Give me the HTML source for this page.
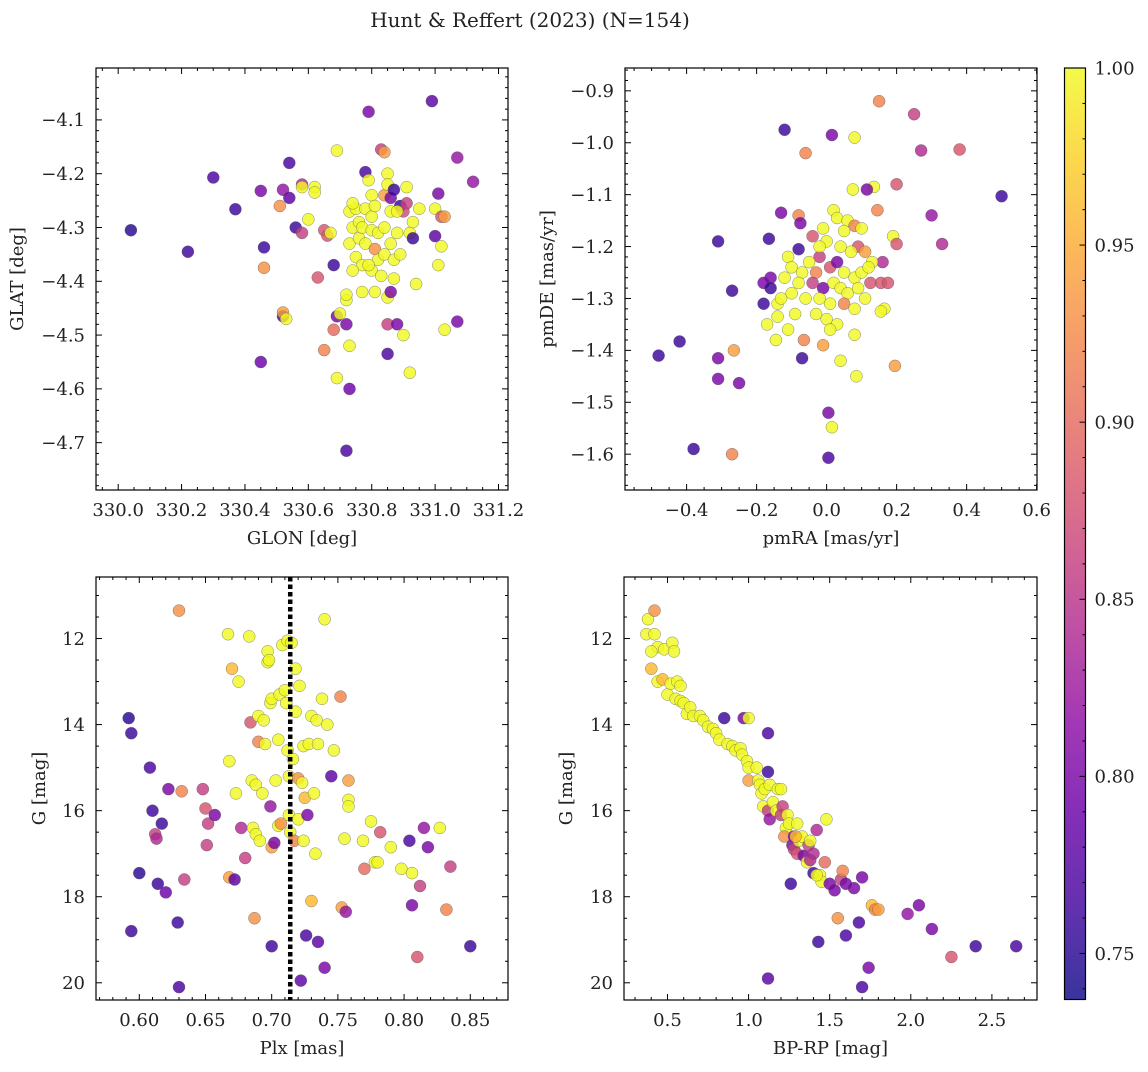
<!DOCTYPE html>
<html><head><meta charset="utf-8"><style>
html,body{margin:0;padding:0;background:#fff}
svg text{font-family:"DejaVu Serif","Liberation Serif",serif;fill:#222}
</style></head><body>
<svg id="fig" width="1148" height="1067" viewBox="0 0 1148 1067" xmlns="http://www.w3.org/2000/svg">
<defs><linearGradient id="cbg" x1="0" y1="1" x2="0" y2="0">
<stop offset="0" stop-color="#0d0887"/><stop offset="0.1" stop-color="#41049d"/><stop offset="0.2" stop-color="#6a00a8"/><stop offset="0.3" stop-color="#8f0da4"/><stop offset="0.4" stop-color="#b12a90"/><stop offset="0.5" stop-color="#cc4778"/><stop offset="0.6" stop-color="#e16462"/><stop offset="0.7" stop-color="#f2844b"/><stop offset="0.8" stop-color="#fca636"/><stop offset="0.9" stop-color="#fcce25"/><stop offset="1" stop-color="#f0f921"/>
</linearGradient></defs>
<text x="530" y="27" text-anchor="middle" font-size="20">Hunt &amp; Reffert (2023) (N=154)</text>
</svg>
<script>
// ---- data ----
const tlGlon=[330.04,330.22,330.30,330.37,330.45,330.46,330.45,330.46,330.52,330.54,330.54,330.51,330.52,330.52,330.53,330.56,330.58,330.58,330.60,330.58,330.62,330.62,330.63,330.65,330.66,330.67,330.65,330.68,330.69,330.69,330.68,330.69,330.70,330.72,330.72,330.73,330.73,330.72,330.72,330.73,330.73,330.74,330.75,330.75,330.76,330.76,330.77,330.77,330.78,330.78,330.79,330.78,330.79,330.80,330.80,330.80,330.80,330.81,330.81,330.81,330.82,330.82,330.83,330.84,330.84,330.84,330.84,330.85,330.85,330.85,330.86,330.86,330.85,330.85,330.86,330.86,330.87,330.87,330.87,330.88,330.88,330.89,330.90,330.89,330.90,330.91,330.91,330.92,330.92,330.93,330.93,330.94,330.95,330.99,331.00,331.00,331.01,331.01,331.02,331.03,331.02,331.03,331.07,331.07,331.12,330.74,330.74,330.79,330.83,330.88,330.77];
const tlGlat=[-4.305,-4.345,-4.207,-4.266,-4.232,-4.337,-4.55,-4.375,-4.23,-4.18,-4.245,-4.26,-4.465,-4.458,-4.47,-4.30,-4.22,-4.31,-4.285,-4.225,-4.225,-4.235,-4.393,-4.305,-4.315,-4.31,-4.528,-4.49,-4.58,-4.157,-4.37,-4.465,-4.46,-4.48,-4.715,-4.60,-4.52,-4.435,-4.425,-4.33,-4.27,-4.30,-4.265,-4.355,-4.32,-4.29,-4.37,-4.30,-4.265,-4.33,-4.085,-4.197,-4.212,-4.24,-4.28,-4.305,-4.38,-4.42,-4.26,-4.34,-4.31,-4.36,-4.155,-4.16,-4.24,-4.30,-4.35,-4.43,-4.2,-4.22,-4.27,-4.33,-4.48,-4.535,-4.42,-4.245,-4.23,-4.36,-4.395,-4.48,-4.31,-4.26,-4.5,-4.35,-4.27,-4.255,-4.225,-4.57,-4.31,-4.29,-4.32,-4.405,-4.265,-4.065,-4.265,-4.316,-4.237,-4.37,-4.28,-4.28,-4.335,-4.49,-4.17,-4.475,-4.215,-4.255,-4.38,-4.37,-4.39,-4.27,-4.42];
const tlProb=[0.75,0.76,0.77,0.76,0.80,0.76,0.79,0.93,0.82,0.77,0.78,0.93,0.77,0.94,1,0.76,0.84,0.86,1,1,1,1,0.88,0.88,0.88,1,0.92,0.90,1,1,0.76,0.80,1,0.80,0.77,0.79,1,1,1,1,1,1,1,1,1,1,1,1,1,1,0.80,0.77,1,1,1,1,1,1,1,0.93,1,1,0.86,0.94,0.94,1,1,1,1,1,1,1,0.86,0.77,0.80,0.80,0.76,1,1,0.80,1,0.76,1,1,0.87,0.86,1,1,1,1,0.76,1,1,0.78,1,0.78,0.80,1,0.88,0.94,1,1,0.82,0.80,0.82,1,1,1,1,1,1];

const trPmra=[-0.12,0.015,0.08,0.15,0.25,-0.06,0.27,0.38,0.50,0.135,0.20,0.075,0.115,0.145,0.30,0.33,0.19,0.20,-0.13,-0.08,-0.075,-0.165,-0.31,-0.08,-0.11,-0.16,-0.18,-0.27,-0.16,-0.18,-0.14,-0.14,-0.17,-0.145,-0.11,-0.065,-0.07,-0.31,-0.31,-0.25,-0.265,-0.42,-0.48,-0.38,-0.27,0.005,0.015,0.005,0.085,0.04,0.08,0.16,0.155,0.175,0.125,0.165,0.155,0.195,0.02,0.03,0.06,0.08,0.05,-0.01,-0.04,0.00,0.04,0.10,0.09,0.07,0.11,0.13,-0.02,-0.05,-0.10,-0.12,-0.07,-0.03,0.01,0.03,0.05,0.08,0.10,-0.08,-0.04,-0.01,0.02,0.04,0.06,0.09,-0.10,-0.06,-0.02,0.01,0.05,0.08,0.11,-0.03,0.00,0.03,-0.01,0.01,-0.13,-0.09,0.12,-0.02];
const trPmde=[-0.975,-0.985,-0.99,-0.92,-0.945,-1.02,-1.015,-1.013,-1.103,-1.085,-1.08,-1.09,-1.09,-1.13,-1.14,-1.195,-1.18,-1.195,-1.135,-1.14,-1.155,-1.185,-1.19,-1.205,-1.22,-1.26,-1.27,-1.285,-1.28,-1.31,-1.31,-1.335,-1.35,-1.38,-1.36,-1.38,-1.415,-1.415,-1.455,-1.463,-1.40,-1.383,-1.41,-1.59,-1.60,-1.52,-1.548,-1.607,-1.45,-1.42,-1.37,-1.23,-1.27,-1.27,-1.27,-1.32,-1.325,-1.43,-1.13,-1.145,-1.15,-1.16,-1.17,-1.165,-1.18,-1.19,-1.2,-1.165,-1.2,-1.21,-1.21,-1.23,-1.22,-1.23,-1.24,-1.26,-1.25,-1.25,-1.24,-1.23,-1.25,-1.26,-1.25,-1.27,-1.27,-1.28,-1.27,-1.28,-1.29,-1.28,-1.29,-1.30,-1.30,-1.31,-1.31,-1.32,-1.3,-1.33,-1.34,-1.35,-1.39,-1.36,-1.3,-1.33,-1.24,-1.2];
const trProb=[0.76,0.80,1,0.92,0.86,0.92,0.84,0.88,0.76,1,0.88,1,0.80,0.92,0.82,0.84,1,0.88,0.80,0.92,0.80,0.76,0.76,0.76,1,0.80,0.80,0.76,0.76,0.76,1,1,1,1,1,0.92,0.76,0.80,0.80,0.80,0.94,0.76,0.76,0.76,0.92,0.80,1,0.77,1,1,1,0.84,0.88,0.88,0.88,1,1,0.94,1,1,1,0.92,1,1,0.88,1,1,1,0.88,1,0.94,1,0.86,1,1,1,1,0.92,0.88,0.80,1,1,1,1,0.86,0.80,1,1,1,1,1,1,1,1,0.92,1,1,1,1,1,0.94,1,1,1,1,1];

const blPlx=[0.592,0.594,0.594,0.600,0.608,0.610,0.612,0.613,0.614,0.617,0.620,0.622,0.630,0.630,0.629,0.632,0.634,0.648,0.650,0.652,0.651,0.657,0.667,0.668,0.668,0.670,0.672,0.673,0.675,0.677,0.680,0.683,0.684,0.685,0.686,0.687,0.688,0.688,0.690,0.690,0.691,0.693,0.694,0.695,0.697,0.697,0.698,0.699,0.699,0.700,0.700,0.700,0.702,0.703,0.705,0.705,0.706,0.707,0.708,0.710,0.711,0.712,0.712,0.713,0.713,0.714,0.715,0.716,0.717,0.718,0.718,0.720,0.720,0.721,0.722,0.723,0.724,0.724,0.725,0.726,0.727,0.728,0.730,0.730,0.732,0.733,0.734,0.735,0.735,0.740,0.742,0.745,0.740,0.738,0.747,0.752,0.755,0.753,0.756,0.758,0.758,0.758,0.769,0.770,0.775,0.778,0.780,0.782,0.790,0.798,0.804,0.806,0.806,0.810,0.812,0.815,0.818,0.827,0.832,0.835,0.850];
const blG=[13.85,14.2,18.8,17.45,15.0,16.0,16.55,16.65,17.7,16.3,17.9,15.5,11.35,20.1,18.6,15.55,17.6,15.5,15.95,16.3,16.8,16.1,11.9,14.85,17.55,12.7,17.6,15.6,13.0,16.4,17.1,11.95,13.95,15.3,16.4,18.5,15.4,16.55,13.8,14.4,16.7,15.6,13.9,14.45,12.3,12.55,12.5,13.5,15.9,13.4,16.85,19.15,16.75,15.3,14.35,16.35,13.3,16.3,12.15,13.2,13.5,12.05,14.6,15.2,16.1,16.5,12.1,14.8,16.7,12.7,13.7,16.2,15.25,13.1,19.95,15.35,14.5,16.7,15.7,18.9,16.1,14.45,13.8,18.1,15.6,17.0,13.9,14.45,19.05,11.55,14.0,15.2,19.65,13.4,14.6,13.35,16.65,18.25,18.35,15.3,15.75,15.9,16.7,17.35,16.25,17.2,17.2,16.5,16.85,17.35,16.7,17.45,18.2,19.4,17.75,16.4,16.85,16.4,18.3,17.3,19.15];
const blProb=[0.75,0.76,0.76,0.75,0.77,0.76,0.86,0.84,0.76,0.76,0.79,0.80,0.93,0.77,0.76,0.92,0.86,0.86,0.88,0.86,0.86,0.80,1,1,0.94,0.96,0.78,1,1,0.84,0.86,1,0.88,1,1,0.93,1,1,1,0.92,1,1,1,1,1,1,1,1,0.82,1,0.94,0.76,0.80,1,1,1,1,0.93,1,1,1,1,1,1,1,1,1,1,0.92,1,1,1,0.93,1,0.78,1,1,1,0.96,0.77,0.80,1,1,0.96,1,1,1,1,0.78,1,1,0.78,0.80,1,1,0.92,1,0.94,0.82,0.94,1,1,1,0.90,1,1,1,0.88,1,1,0.77,1,0.80,0.88,0.86,0.82,0.80,1,0.92,0.86,0.76];
const plxRef=[0.714];

const brBprp=[0.38,0.37,0.42,0.42,0.44,0.48,0.40,0.40,0.44,0.47,0.53,0.54,0.50,0.52,0.56,0.58,0.55,0.58,0.60,0.62,0.64,0.66,0.70,0.72,0.75,0.78,0.80,0.82,0.85,0.87,0.90,0.92,0.95,0.96,0.97,1.00,0.99,1.00,1.00,1.05,1.06,1.07,1.08,1.09,1.10,1.12,1.12,1.13,1.12,1.13,1.15,1.17,1.18,1.20,1.20,1.21,1.23,1.24,1.25,1.22,1.27,1.28,1.28,1.30,1.31,1.33,1.34,1.30,1.29,1.36,1.37,1.38,1.40,1.40,1.42,1.44,1.45,1.48,1.50,1.47,1.53,1.55,1.57,1.58,1.60,1.60,1.65,1.68,1.70,1.26,1.43,1.12,1.70,1.74,1.76,1.78,1.80,1.98,2.05,2.13,2.25,2.40,2.65,1.38,1.42];
const brG=[11.55,11.9,11.35,11.9,12.2,12.25,12.3,12.7,13.0,12.95,12.1,12.3,13.3,13.05,13.0,13.1,13.4,13.45,13.5,13.75,13.6,13.8,13.8,13.9,14.05,14.1,14.2,14.35,13.85,14.45,14.5,14.6,14.55,14.7,13.85,13.85,14.85,15.0,15.3,15.0,15.3,15.4,15.6,15.9,15.5,15.1,14.2,15.4,16.0,16.2,15.8,16.0,15.5,15.5,16.1,15.9,16.4,16.1,16.3,16.6,16.8,16.6,16.9,17.0,16.7,16.6,17.05,16.3,16.6,17.2,16.8,16.7,17.45,17.0,16.45,17.5,17.65,16.2,17.7,17.2,17.85,18.5,17.6,17.4,17.7,18.9,17.8,18.6,17.55,17.7,19.05,19.9,20.1,19.65,18.2,18.3,18.3,18.4,18.2,18.75,19.4,19.15,19.15,17.15,17.5];
const brProb=[1,1,0.93,1,1,1,1,0.96,1,0.96,1,1,1,1,1,1,1,1,1,1,1,1,1,1,1,1,1,1,0.76,1,1,1,1,1,0.80,1,1,1,0.94,1,1,1,1,1,1,0.76,0.77,1,0.86,0.82,1,1,1,1,0.86,0.86,1,1,1,0.93,0.80,0.80,0.86,0.88,1,1,0.80,1,0.96,1,0.86,1,0.76,0.84,0.84,1,1,1,0.80,0.90,0.80,0.93,0.86,0.92,0.80,0.77,0.80,0.77,0.80,0.76,0.76,0.78,0.77,0.80,0.96,0.92,0.94,0.82,0.80,0.80,0.88,0.76,0.77,0.84,1];

const cbTicks=[0.75,0.80,0.85,0.90,0.95,1.00];
// ---- rendering ----
const NS='http://www.w3.org/2000/svg';
const svg=document.getElementById('fig');
const VMIN=0.737,VMAX=1.0;
const FS=18;
const stops=['#0d0887','#41049d','#6a00a8','#8f0da4','#b12a90','#cc4778','#e16462','#f2844b','#fca636','#fcce25','#f0f921'];
function hex(h){return [1,3,5].map(i=>parseInt(h.substr(i,2),16));}
function plasma(v){let t=(v-VMIN)/(VMAX-VMIN);t=Math.max(0,Math.min(1,t));const f=t*10,i=Math.min(9,Math.floor(f)),u=f-i;const a=hex(stops[i]),b=hex(stops[i+1]);return 'rgb('+a.map((c,k)=>Math.round(c+(b[k]-c)*u)).join(',')+')';}
function el(tag,attrs,parent){const e=document.createElementNS(NS,tag);for(const k in attrs)e.setAttribute(k,attrs[k]);(parent||svg).appendChild(e);return e;}
function fmt(v,d){return (v<0?'\u2212':'')+Math.abs(v).toFixed(d);}
function panel(o){
  const g=el('g',{});
  
  
  const sx=v=>o.x0+(v-o.xmin)/(o.xmax-o.xmin)*(o.x1-o.x0);
  const sy=v=>o.inv? o.y0+(v-o.ymin)/(o.ymax-o.ymin)*(o.y1-o.y0) : o.y1-(v-o.ymin)/(o.ymax-o.ymin)*(o.y1-o.y0);
  const cid='c'+o.name;
  const cp=el('clipPath',{id:cid},g);el('rect',{x:o.x0,y:o.y0,width:o.x1-o.x0,height:o.y1-o.y0},cp);
  const pts=el('g',{'clip-path':'url(#'+cid+')'},g);
  
  
  for(let i=0;i<o.xs.length;i++){
    const c=el('circle',{cx:sx(o.xs[i]).toFixed(1),cy:sy(o.ys[i]).toFixed(1),r:6,fill:plasma(o.cs[i]),'fill-opacity':0.82,stroke:'#555','stroke-width':0.35},pts);
    
    
  }
  if(o.vline){for(const v of o.vline){const l=el('line',{x1:sx(v),x2:sx(v),y1:o.y0,y2:o.y1,stroke:'#000','stroke-width':4.5,'stroke-dasharray':'4.5,3'},g);
    
    }}
  const fr=el('rect',{x:o.x0,y:o.y0,width:o.x1-o.x0,height:o.y1-o.y0,fill:'none',stroke:'#000','stroke-width':1.2},g);
  
  
  const eps=1e-9;
  for(let k=Math.ceil(o.xmin/o.xmi-eps);k*o.xmi<=o.xmax+eps;k++){
    const v=k*o.xmi,X=sx(v);const maj=Math.abs(v/o.xma-Math.round(v/o.xma))<1e-6;const L=maj?6:3;
    el('line',{x1:X,x2:X,y1:o.y1,y2:o.y1-L,stroke:'#000','stroke-width':1},g);
    el('line',{x1:X,x2:X,y1:o.y0,y2:o.y0+L,stroke:'#000','stroke-width':1},g);
    if(maj){const t=el('text',{x:X,y:o.y1+26,'text-anchor':'middle','font-size':FS},g);t.textContent=fmt(v,o.xd);
      
      }
  }
  for(let k=Math.ceil(o.ymin/o.ymi-eps);k*o.ymi<=o.ymax+eps;k++){
    const v=k*o.ymi,Y=sy(v);const maj=Math.abs(v/o.yma-Math.round(v/o.yma))<1e-6;const L=maj?6:3;
    el('line',{x1:o.x0,x2:o.x0+L,y1:Y,y2:Y,stroke:'#000','stroke-width':1},g);
    el('line',{x1:o.x1,x2:o.x1-L,y1:Y,y2:Y,stroke:'#000','stroke-width':1},g);
    if(maj){const t=el('text',{x:o.x0-11,y:Y+6.3,'text-anchor':'end','font-size':FS},g);t.textContent=fmt(v,o.yd);
      
      }
  }
  const xt=el('text',{x:(o.x0+o.x1)/2,y:o.y1+54,'text-anchor':'middle','font-size':FS},g);xt.textContent=o.xl;
  
  
  const yt=el('text',{x:o.ylx,y:(o.y0+o.y1)/2,'text-anchor':'middle','font-size':FS,transform:'rotate(-90 '+o.ylx+' '+(o.y0+o.y1)/2+')'},g);yt.textContent=o.yl;
  
  
}
panel({name:'glon-glat-panel',x0:96,x1:508,y0:68,y1:490,xmin:329.930,xmax:331.230,ymin:-4.788,ymax:-4.0035,xma:0.2,xmi:0.05,yma:0.1,ymi:0.02,xd:1,yd:1,xs:tlGlon,ys:tlGlat,cs:tlProb,xl:'GLON [deg]',yl:'GLAT [deg]',ylx:23});
panel({name:'proper-motion-panel',x0:625,x1:1037,y0:68,y1:490,xmin:-0.576,xmax:0.601,ymin:-1.669,ymax:-0.856,xma:0.2,xmi:0.05,yma:0.1,ymi:0.02,xd:1,yd:1,xs:trPmra,ys:trPmde,cs:trProb,xl:'pmRA [mas/yr]',yl:'pmDE [mas/yr]',ylx:553});
panel({name:'parallax-magnitude-panel',x0:96,x1:508,y0:577,y1:1000,xmin:0.5673,xmax:0.8785,ymin:10.57,ymax:20.40,inv:true,xma:0.05,xmi:0.01,yma:2,ymi:0.5,xd:2,yd:0,xs:blPlx,ys:blG,cs:blProb,xl:'Plx [mas]',yl:'G [mag]',ylx:45,vline:plxRef});
panel({name:'cmd-panel',x0:624,x1:1037,y0:577,y1:1000,xmin:0.232,xmax:2.778,ymin:10.57,ymax:20.40,inv:true,xma:0.5,xmi:0.1,yma:2,ymi:0.5,xd:1,yd:0,xs:brBprp,ys:brG,cs:brProb,xl:'BP-RP [mag]',yl:'G [mag]',ylx:572});
const cb=el('g',{});


const CX0=1064.5,CX1=1085.5,CY0=68,CY1=999.5;
el('rect',{x:CX0,y:CY0,width:CX1-CX0,height:CY1-CY0,fill:'url(#cbg)','fill-opacity':0.82},cb);
el('rect',{x:CX0,y:CY0,width:CX1-CX0,height:CY1-CY0,fill:'none',stroke:'#000','stroke-width':1.2},cb);
const cy=v=>CY1-(v-VMIN)/(VMAX-VMIN)*(CY1-CY0);
for(let k=74;k<=100;k++){const v=k/100,Y=cy(v);const maj=k%5===0;
  el('line',{x1:CX1,x2:CX1-(maj?6:3),y1:Y,y2:Y,stroke:'#000','stroke-width':1},cb);}
for(const v of cbTicks){const t=el('text',{x:CX1+9,y:cy(v)+6.3,'font-size':FS},cb);t.textContent=v.toFixed(2);
  
  }
</script>
</body></html>
